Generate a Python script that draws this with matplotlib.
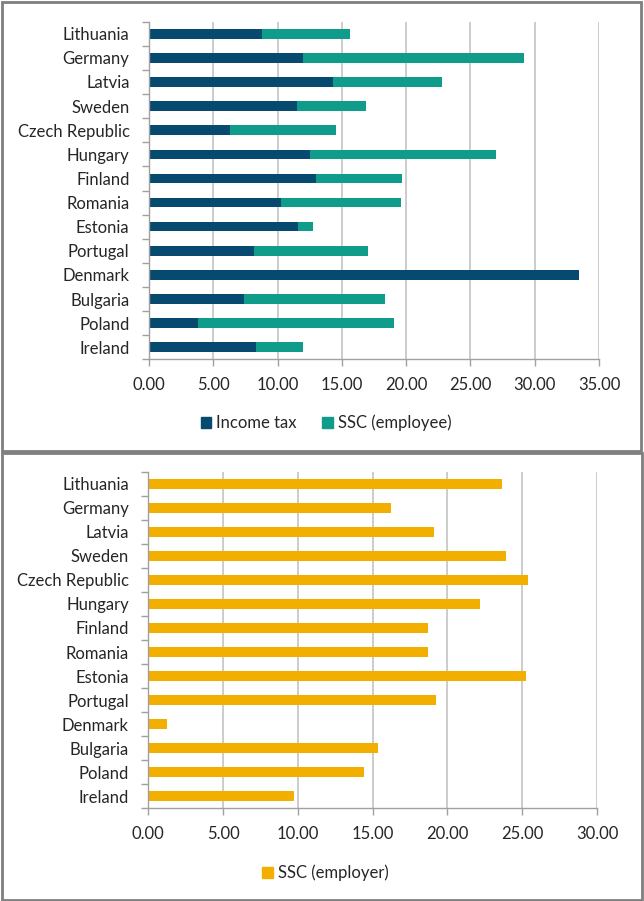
import matplotlib

matplotlib.use("Agg")
import matplotlib.pyplot as plt
import numpy as np
from matplotlib.patches import Patch, Rectangle

countries = [
    "Lithuania", "Germany", "Latvia", "Sweden", "Czech Republic", "Hungary",
    "Finland", "Romania", "Estonia", "Portugal", "Denmark", "Bulgaria",
    "Poland", "Ireland",
]
income_tax = [8.79, 11.95, 14.31, 11.51, 6.30, 12.52, 13.01, 10.26, 11.59,
              8.16, 33.44, 7.39, 3.79, 8.32]
ssc_employee = [6.84, 17.23, 8.50, 5.34, 8.24, 14.44, 6.66, 9.34, 1.14,
                8.89, 0.00, 10.96, 15.28, 3.63]
ssc_employer = [23.66, 16.20, 19.10, 23.91, 25.40, 22.19, 18.72, 18.72, 25.27,
                19.21, 1.23, 15.33, 14.42, 9.72]

DARK_BLUE = "#064b6f"
TEAL = "#0f9c8a"
ORANGE = "#f2af00"
GRID = "#bfbfbf"
AXIS = "#a0a0a0"
TEXT = "#262626"
FS = 12

plt.rcParams["font.family"] = ["Lato", "DejaVu Sans"]
plt.rcParams["font.size"] = FS

W, H = 644, 901
fig = plt.figure(figsize=(W / 100, H / 100), dpi=100)


def px_rect(x0, y0, x1, y1):
    # pixel box (top-left origin) -> figure fraction [left, bottom, width, height]
    return [x0 / W, 1 - y1 / H, (x1 - x0) / W, (y1 - y0) / H]


def style_axes(ax, xmax):
    n = len(countries)
    ax.set_ylim(n - 0.5, -0.5)
    ax.set_xlim(0, xmax)
    ax.set_xticks(np.arange(0, xmax + 0.1, 5))
    ax.set_xticklabels([f"{v:.2f}" for v in np.arange(0, xmax + 0.1, 5)])
    ax.set_yticks(np.arange(n))
    ax.set_yticklabels(countries)
    ax.set_yticks(np.arange(-0.5, n, 1), minor=True)
    ax.tick_params(axis="y", which="major", length=0, pad=14, labelcolor=TEXT)
    ax.tick_params(axis="y", which="minor", length=5, color=AXIS, width=1)
    ax.tick_params(axis="x", length=5, color=AXIS, width=1, pad=8,
                   labelcolor=TEXT)
    ax.grid(axis="x", color=GRID, linewidth=1.1)
    ax.set_axisbelow(True)
    for side in ("top", "right"):
        ax.spines[side].set_visible(False)
    for side in ("left", "bottom"):
        ax.spines[side].set_color(AXIS)
        ax.spines[side].set_linewidth(1)


y = np.arange(len(countries))
bar_h = 0.4

# upper panel: income tax plus employee contributions, stacked
ax1 = fig.add_axes(px_rect(149, 21.7, 599, 359.3))
ax1.barh(y, income_tax, height=bar_h, color=DARK_BLUE)
ax1.barh(y, ssc_employee, left=income_tax, height=bar_h, color=TEAL)
style_axes(ax1, 35)
fig.legend(
    handles=[Patch(color=DARK_BLUE, label="Income tax"),
             Patch(color=TEAL, label="SSC (employee)")],
    loc="center", bbox_to_anchor=(326 / W, 1 - 423 / H), ncol=2,
    frameon=False, handlelength=0.65, handleheight=0.65, handletextpad=0.3,
    columnspacing=1.5, fontsize=FS, labelcolor=TEXT,
)

# lower panel: employer contributions
ax2 = fig.add_axes(px_rect(148.3, 471.7, 597, 808.3))
ax2.barh(y, ssc_employer, height=bar_h, color=ORANGE)
style_axes(ax2, 30)
fig.legend(
    handles=[Patch(color=ORANGE, label="SSC (employer)")],
    loc="center", bbox_to_anchor=(325 / W, 1 - 873 / H),
    frameon=False, handlelength=0.65, handleheight=0.65, handletextpad=0.3,
    fontsize=FS, labelcolor=TEXT,
)

# panel frames
for x0, y0, x1, y1 in [(1.5, 1.5, 641, 451), (1.5, 452.5, 642, 899.5)]:
    fig.add_artist(Rectangle((x0 / W, 1 - y1 / H), (x1 - x0) / W, (y1 - y0) / H,
                             transform=fig.transFigure, fill=False,
                             edgecolor="#7f7f7f", linewidth=2))

fig.savefig("out.png", dpi=100)
